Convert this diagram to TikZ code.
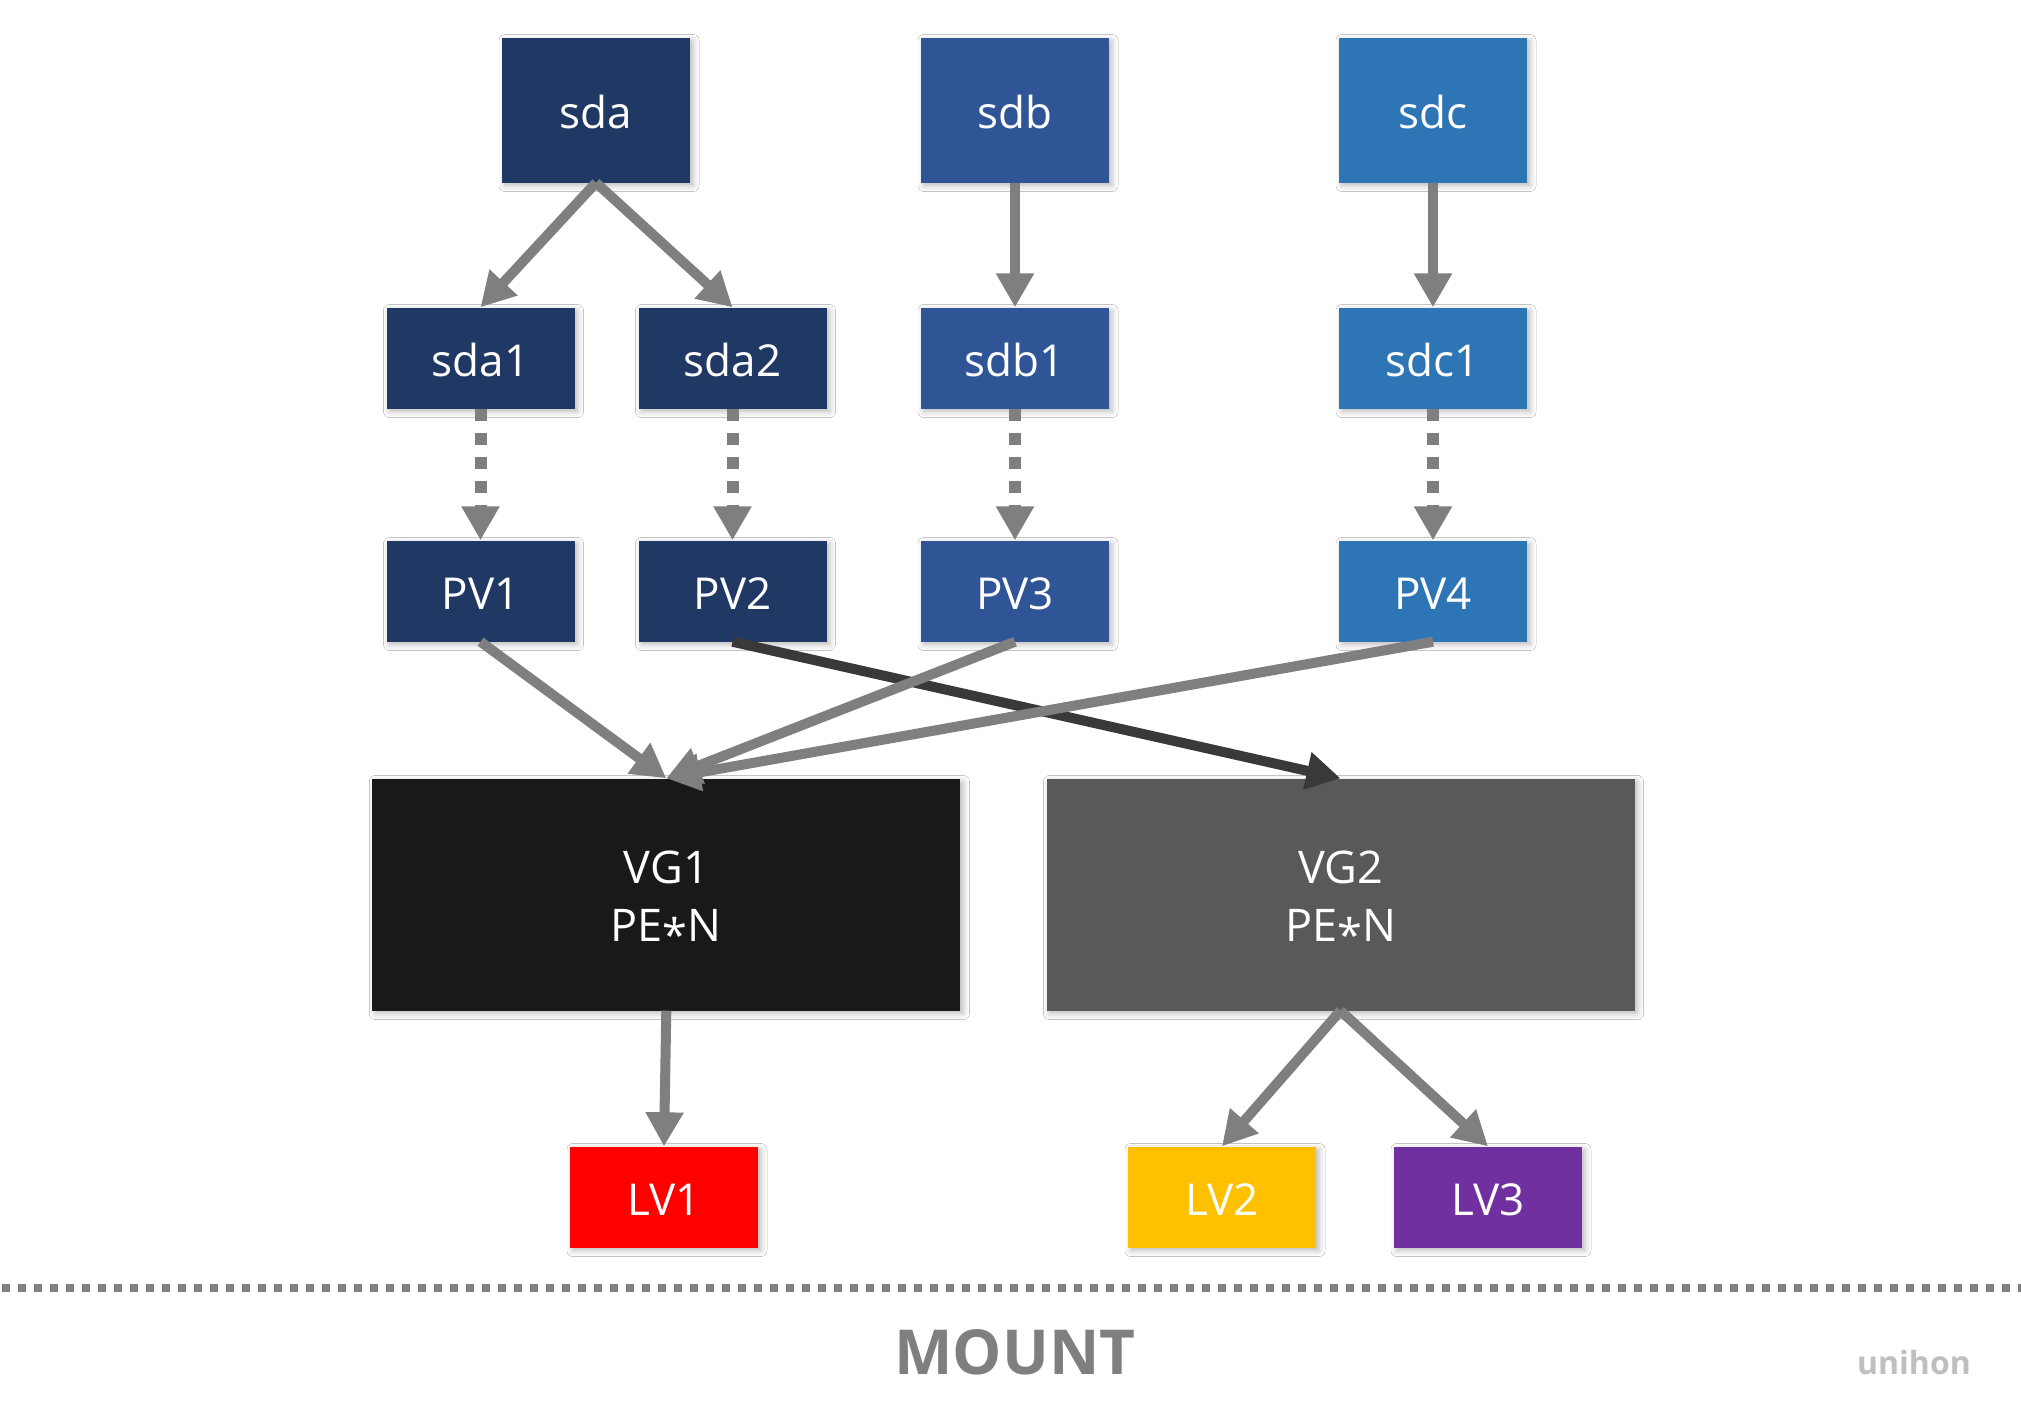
\documentclass[tikz,border=0pt]{standalone}
\usepackage{fontspec}
\setmainfont{Open Sans}
\usetikzlibrary{arrows.meta,shadows.blur}
\definecolor{cA}{HTML}{203864}
\definecolor{cB}{HTML}{2F5597}
\definecolor{cC}{HTML}{2E75B6}
\definecolor{cVGa}{HTML}{191919}
\definecolor{cVGb}{HTML}{595959}
\definecolor{cLVa}{HTML}{FF0000}
\definecolor{cLVb}{HTML}{FFC000}
\definecolor{cLVc}{HTML}{7030A0}
\definecolor{cGray}{HTML}{7F7F7F}
\definecolor{cDark}{HTML}{3A3838}
\definecolor{cLight}{HTML}{BFBFBF}
\begin{document}
\begin{tikzpicture}[x=1pt,y=-1pt,
  box/.style={rectangle, inner sep=0pt, minimum width=188pt, minimum height=101pt,
    text=white, font=\fontsize{44}{52}\selectfont, text height=36pt, text depth=0pt,
    blur shadow={shadow xshift=3pt, shadow yshift=-3pt, shadow blur radius=6pt, shadow opacity=28}},
  topbox/.style={box, minimum height=145pt},
  vgbox/.style={box, minimum width=588pt, minimum height=232pt, align=center,
    font=\fontsize{45}{58}\selectfont, text height=, text depth=},
  conn/.style={draw=cGray, line width=10pt, -{Triangle[length=34pt,width=36pt]}},
  darkconn/.style={conn, draw=cDark},
  dotconn/.style={draw=cGray, line width=12pt, dash pattern=on 12pt off 12pt, -{Triangle[length=34pt,width=36pt]}},
]
\useasboundingbox (0,0) rectangle (2021,1416);
\fill[white] (0,0) rectangle (2021,1416);

% top row
\node[topbox, fill=cA] (sda) at (596,110) {sda};
\node[topbox, fill=cB] (sdb) at (1015,110) {sdb};
\node[topbox, fill=cC] (sdc) at (1433,110) {sdc};
% partitions
\node[box, fill=cA] (sda1) at (480.5,358) {sda1};
\node[box, fill=cA] (sda2) at (732.5,358) {sda2};
\node[box, fill=cB] (sdb1) at (1015,358) {sdb1};
\node[box, fill=cC] (sdc1) at (1433,358) {sdc1};
% PVs
\node[box, fill=cA] (pv1) at (480.5,591) {PV1};
\node[box, fill=cA] (pv2) at (732.5,591) {PV2};
\node[box, fill=cB] (pv3) at (1015,591) {PV3};
\node[box, fill=cC] (pv4) at (1433,591) {PV4};
% VGs
\node[vgbox, fill=cVGa] (vg1) at (666.3,894.5) {\rule{0pt}{46pt}VG1\\PE\raisebox{-0.22em}{*}N};
\node[vgbox, fill=cVGb] (vg2) at (1340.5,894.5) {\rule{0pt}{46pt}VG2\\PE\raisebox{-0.22em}{*}N};
% LVs
\node[box, fill=cLVa] (lv1) at (664,1197) {LV1};
\node[box, fill=cLVb] (lv2) at (1222,1197) {LV2};
\node[box, fill=cLVc] (lv3) at (1488,1197) {LV3};

% connectors
\draw[conn] (sda.south) -- (sda1.north);
\draw[conn] (sda.south) -- (sda2.north);
\draw[conn] (sdb.south) -- (sdb1.north);
\draw[conn] (sdc.south) -- (sdc1.north);
\draw[dotconn] (sda1.south) -- (pv1.north);
\draw[dotconn] (sda2.south) -- (pv2.north);
\draw[dotconn] (sdb1.south) -- (pv3.north);
\draw[dotconn] (sdc1.south) -- (pv4.north);
\draw[conn] (pv1.south) -- (vg1.north);
\draw[darkconn] (pv2.south) -- (vg2.north);
\draw[conn] (pv3.south) -- (vg1.north);
\draw[conn] (pv4.south) -- (vg1.north);
\draw[conn] (vg1.south) -- (lv1.north);
\draw[conn] (vg2.south) -- (lv2.north);
\draw[conn] (vg2.south) -- (lv3.north);

% separator
\coordinate (sepL) at (2,1288);
\coordinate (sepR) at (2021,1288);
\draw[cGray, line width=8pt, dash pattern=on 8pt off 8pt] (sepL) -- (sepR);

\node[text=cGray, font=\fontsize{62}{68}\selectfont\bfseries] (mount) at (1015,1352) {MOUNT};
\node[text=cLight, font=\fontsize{32}{38}\selectfont\bfseries] (unihon) at (1914,1362) {unihon};
\end{tikzpicture}
\end{document}
